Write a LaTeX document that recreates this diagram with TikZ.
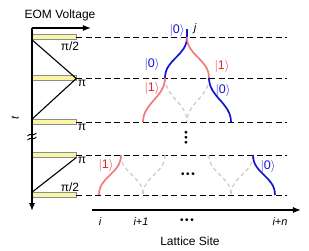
\documentclass[tikz,border=0pt]{standalone}
\usepackage{fontspec}
\setmainfont{Liberation Sans}
\usetikzlibrary{arrows.meta}
\definecolor{KBlue}{HTML}{1414D2}
\definecolor{KRed}{HTML}{E0282C}
\definecolor{LRed}{HTML}{F27A7A}
\definecolor{LGray}{RGB}{ 205, 205, 205 }
\definecolor{LYellow}{RGB}{250, 245, 165}
\definecolor{DGray}{HTML}{8C8C8C}

\begin{document}
\begin{tikzpicture}[x=1pt, y=-1pt,
    hop/.style={to path={.. controls ([yshift=-19pt]\tikztostart) and ([yshift=19pt]\tikztotarget) .. (\tikztotarget)}},
    path0/.style={KBlue, line width=1.7pt, hop},
    path1/.style={LRed, line width=1.7pt, hop},
    pathoff/.style={LGray, line width=1.3pt, dash pattern=on 4pt off 3pt, hop},
    level/.style={black, line width=0.9pt, dash pattern=on 6pt off 3.5pt},
    pulse/.style={draw=DGray, fill=LYellow, line width=0.6pt, minimum width=44pt, minimum height=4.5pt, inner sep=0pt},
    axis/.style={black, line width=1.3pt, -{Latex[length=8pt, width=6pt]}},
    ket0/.style={KBlue, inner sep=0pt, font=\fontsize{12.5}{14}\selectfont},
    ket1/.style={KRed, inner sep=0pt, font=\fontsize{12.5}{14}\selectfont},
    lbl/.style={inner sep=0pt, font=\fontsize{12}{14}\selectfont},
    dots/.style={inner sep=0pt, font=\fontsize{10}{12}\selectfont},
    site/.style={inner sep=0pt, font=\fontsize{11}{13}\selectfont\itshape}]

    \def\Dx{22}
    \def\Xo{99}

    \useasboundingbox (0,0) rectangle (309,250);

    % Lattice grid
    \foreach \r/\y in {1/37, 2/78, 3/122, 4/155, 5/195} {
        \foreach \k in {0,...,8} {
            \coordinate (s-\k-\r) at ({\Xo+\Dx*\k},\y);
        }
        \node[pulse] (bar-\r) at (54,\y) {};
        \coordinate (end-\r) at (287,\y);
        \draw[level] (bar-\r.east) -- (end-\r);
    }

    % Axes
    \coordinate (t0) at (32,28);
    \coordinate (t1) at (32,211);
    \coordinate (v1) at (91,28);
    \coordinate (l0) at (92,210);
    \coordinate (l1) at (301,210);
    \draw[axis] (t0) -- (v1);
    \draw[axis] (t0) -- (t1);
    \draw[axis] (l0) -- (l1);

    % Axis break
    \draw[black, line width=0.9pt] (27.5,136) .. controls (30,132.5) and (33,137) .. (36.5,133);
    \draw[black, line width=0.9pt] (27.5,140) .. controls (30,136.5) and (33,141) .. (36.5,137);

    % Voltage ramps
    \draw[black, line width=1.1pt] (bar-1.south west) -- ([yshift=-0.5pt]bar-2.east) -- (bar-3.north west);
    \draw[black, line width=1.1pt] (bar-5.north west) -- (bar-4.south east);

    % Pulse areas
    \node[lbl] (a1) at (70,46) {π/2};
    \node[lbl] (a2) at (82,83) {π};
    \node[lbl] (a3) at (82,127) {π};
    \node[lbl] (a4) at (82,160) {π};
    \node[lbl] (a5) at (70,187) {π/2};

    \node[lbl] (eom) at (60,15) {EOM Voltage};
    \node[lbl, font=\fontsize{11}{13}\selectfont\itshape, rotate=90] (tlab) at (15,118) {t};
    \node[lbl] (lat) at (190,241) {Lattice Site};

    % Site labels
    \node[site] (i0) at (100,222) {i};
    \node[site] (i1) at (141,222) {i+1};
    \node[dots] (idots) at (187,221) {•\,•\,•};
    \node[site] (in) at (280,222) {i+n};

    % Paths
    \coordinate (top) at (187,29);
    \draw[KBlue, line width=1.7pt] (top) -- (s-4-1);
    \draw[path0] (s-4-1) to (s-3-2);
    \draw[path1] (s-4-1) to (s-5-2);

    \draw[pathoff] (s-3-2) to (s-4-3);
    \draw[pathoff] (s-5-2) to (s-4-3);
    \draw[path1] (s-3-2) to (s-2-3);
    \draw[path0] (s-5-2) to (s-6-3);

    \draw[pathoff] (s-1-4) to (s-2-5);
    \draw[pathoff] (s-3-4) to (s-2-5);
    \draw[pathoff] (s-5-4) to (s-6-5);
    \draw[pathoff] (s-7-4) to (s-6-5);
    \draw[path1] (s-1-4) to (s-0-5);
    \draw[path0] (s-7-4) to (s-8-5);

    % Kets
    \node[ket0] (k1) at (177,30) {$|$0$\rangle$};
    \node[site] (jlab) at (195,29) {j};
    \node[ket0] (k2) at (152,64) {$|$0$\rangle$};
    \node[ket1] (k3) at (222,66) {$|$1$\rangle$};
    \node[ket1] (k4) at (152,88) {$|$1$\rangle$};
    \node[ket0] (k5) at (223,90) {$|$0$\rangle$};
    \node[ket1] (k6) at (106,165) {$|$1$\rangle$};
    \node[ket0] (k7) at (268,166) {$|$0$\rangle$};

    % Dots
    \node[dots, rotate=90] (vdots) at (187,138) {•\,•\,•};
    \node[dots] (hdots) at (188,175) {•\,•\,•};

\end{tikzpicture}
\end{document}
